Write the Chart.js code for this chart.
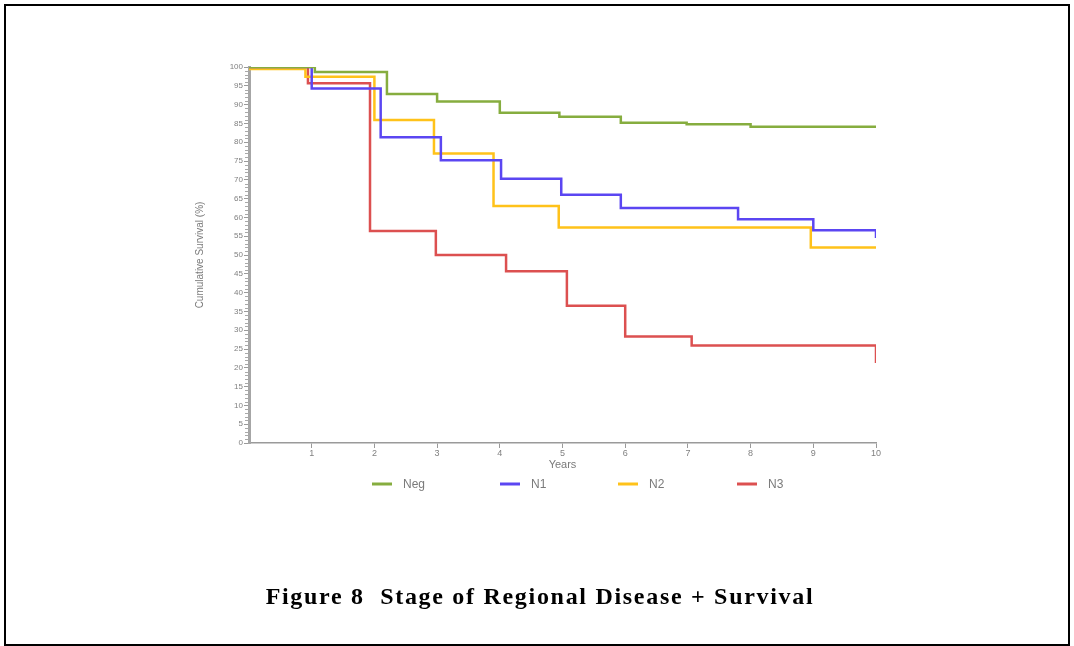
<!DOCTYPE html>
<html>
<head>
<meta charset="utf-8">
<script src="https://cdn.jsdelivr.net/npm/chart.js@4.4.1/dist/chart.umd.min.js"></script>
<style>
  html, body { margin: 0; padding: 0; background: #fff; }
  #wrap { position: relative; width: 1074px; height: 646px; overflow: hidden; }
  #frame { position: absolute; left: 4px; top: 4px; width: 1062px; height: 638px; border: 2px solid #000; }
  #c { position: absolute; left: 0; top: 0; }
  #caption { position: absolute; left: 0; width: 1080px; top: 583px; text-align: center;
    font-family: "Liberation Serif", "DejaVu Serif", serif; font-weight: bold; font-size: 24px;
    letter-spacing: 1.7px; color: #000; white-space: pre; }
</style>
</head>
<body>
<div id="wrap">
  <div id="frame"></div>
  <canvas id="c" width="1074" height="646"></canvas>
  <div id="caption">Figure 8  Stage of Regional Disease + Survival</div>
</div>
<script>
// ---- Data (Kaplan-Meier steps: time in years, cumulative survival %) ----
const seriesNames = ["Neg", "N1", "N2", "N3"];

const negYears = [0, 1.05, 2.2, 3.0, 4.0, 4.95, 5.93, 6.98, 8.0, 10];
const negSurv  = [100, 98.7, 92.8, 90.8, 87.8, 86.8, 85.2, 84.8, 84.1, 84.1];

const n1Years = [0, 1.0, 2.1, 3.06, 4.02, 4.98, 5.93, 7.8, 9.0, 10, 10];
const n1Surv  = [100, 94.3, 81.3, 75.2, 70.3, 66.0, 62.5, 59.5, 56.6, 56.6, 54.5];

const n2Years = [0, 0.9, 2.0, 2.95, 3.9, 4.94, 8.96, 10];
const n2Surv  = [99.5, 97.4, 85.9, 77.0, 63.0, 57.3, 52.0, 52.0];

const n3Years = [0, 0.94, 1.93, 2.98, 4.1, 5.07, 6.0, 7.06, 10, 10];
const n3Surv  = [100, 95.7, 56.4, 50.0, 45.7, 36.5, 28.3, 25.9, 25.9, 21.3];

const xTicks = [1, 2, 3, 4, 5, 6, 7, 8, 9, 10];
const yTicks = [0, 5, 10, 15, 20, 25, 30, 35, 40, 45, 50, 55, 60, 65, 70, 75, 80, 85, 90, 95, 100];

const colors = ["#86ad3f", "#5b46f2", "#ffc21a", "#dc5050"];

function pts(xs, ys) { return xs.map((x, i) => ({ x: x, y: ys[i] })); }

const allData = [pts(negYears, negSurv), pts(n1Years, n1Surv), pts(n2Years, n2Surv), pts(n3Years, n3Surv)];

// minor ticks on the y axis
const minorTicks = {
  id: 'minorTicks',
  afterDraw(chart) {
    const ctx = chart.ctx, y = chart.scales.y, x = chart.scales.x;
    ctx.save();
    ctx.strokeStyle = '#a8a8a8';
    ctx.lineWidth = 1;
    for (let v = 0; v <= 100; v++) {
      if (v % 5 === 0) continue;
      const py = Math.round(y.getPixelForValue(v)) + 0.5;
      ctx.beginPath(); ctx.moveTo(x.left - 4, py); ctx.lineTo(x.left, py); ctx.stroke();
    }
    ctx.restore();
  }
};

// legend drawn from the datasets
const legendX = [372, 500, 618, 737];
const kmLegend = {
  id: 'kmLegend',
  afterDraw(chart) {
    const ctx = chart.ctx;
    ctx.save();
    const ly = 484;
    chart.data.datasets.forEach((ds, i) => {
      const lx = legendX[i];
      ctx.strokeStyle = ds.borderColor;
      ctx.lineWidth = 3;
      ctx.beginPath(); ctx.moveTo(lx, ly); ctx.lineTo(lx + 20, ly); ctx.stroke();
      ctx.fillStyle = '#7a7a7a';
      ctx.font = '12px "Liberation Sans", Arial, sans-serif';
      ctx.textBaseline = 'middle';
      ctx.textAlign = 'left';
      ctx.fillText(ds.label, lx + 31, ly + 1);
    });
    ctx.restore();
  }
};

new Chart(document.getElementById('c'), {
  type: 'line',
  data: {
    datasets: seriesNames.map((name, i) => ({
      label: name,
      data: allData[i],
      borderColor: colors[i],
      backgroundColor: colors[i],
      borderWidth: 2.5,
      pointRadius: 0,
      stepped: 'before',
      fill: false,
      tension: 0
    }))
  },
  options: {
    responsive: false,
    animation: false,
    devicePixelRatio: 1,
    layout: { padding: { left: 190, right: 198, top: 67, bottom: 173 } },
    plugins: {
      legend: { display: false },
      tooltip: { enabled: false },
      title: { display: false }
    },
    scales: {
      x: {
        type: 'linear',
        min: 0, max: 10,
        afterFit(s) { s.height = 30; },
        afterBuildTicks(s) { s.ticks = xTicks.map(v => ({ value: v })); },
        border: { display: true, color: '#9a9a9a', width: 1.5, dash: [2, 1] },
        grid: { display: true, drawOnChartArea: false, drawTicks: true, tickLength: 5, color: '#9a9a9a' },
        ticks: { color: '#808080', font: { size: 9, family: '"Liberation Sans", Arial, sans-serif' }, padding: 0, maxRotation: 0, autoSkip: false },
        title: { display: true, text: 'Years', color: '#7a7a7a', font: { size: 11, family: '"Liberation Sans", Arial, sans-serif' }, padding: { top: 0, bottom: 1 } }
      },
      y: {
        type: 'linear',
        min: 0, max: 100,
        afterFit(s) { s.width = 59; },
        afterBuildTicks(s) { s.ticks = yTicks.map(v => ({ value: v })); },
        border: { display: true, color: '#a6a6a6', width: 3 },
        grid: { display: true, drawOnChartArea: false, drawTicks: true, tickLength: 5, color: '#9a9a9a' },
        ticks: { color: '#808080', font: { size: 8, family: '"Liberation Sans", Arial, sans-serif' }, padding: 1, autoSkip: false },
        title: { display: true, text: 'Cumulative Survival (%)', color: '#7a7a7a', font: { size: 10, family: '"Liberation Sans", Arial, sans-serif' }, padding: { top: 4, bottom: 0 } }
      }
    }
  },
  plugins: [minorTicks, kmLegend]
});
</script>
</body>
</html>
